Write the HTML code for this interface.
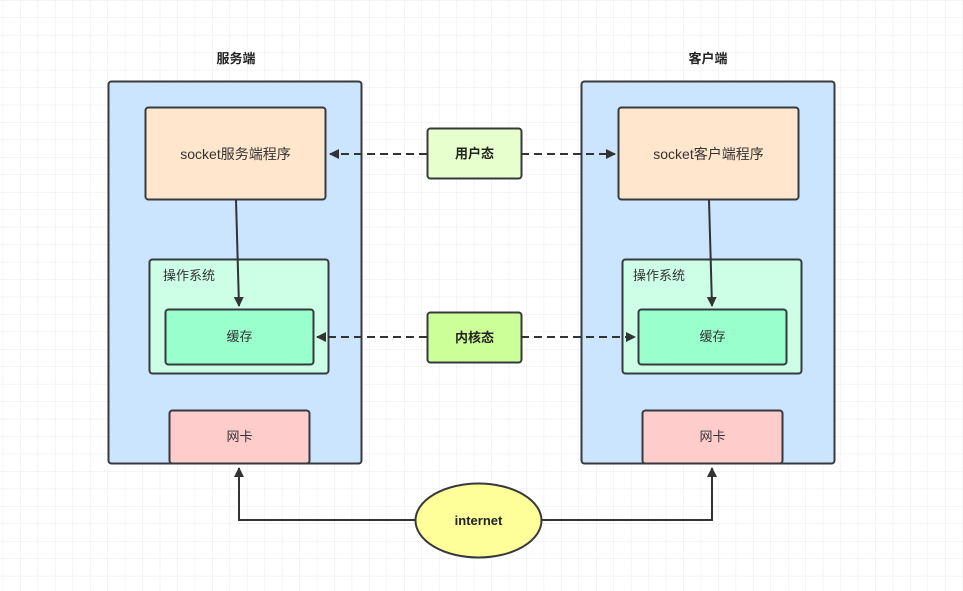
<!DOCTYPE html>
<html><head><meta charset="utf-8"><style>
html,body{margin:0;padding:0;background:#fff;}
svg{display:block;}
text{font-family:"Liberation Sans","Noto Sans CJK SC",sans-serif;}
</style></head><body>
<svg width="963" height="591" viewBox="0 0 963 591" xmlns="http://www.w3.org/2000/svg">
<defs>
<pattern id="g" x="2.7" y="0" width="17.45" height="17.45" patternUnits="userSpaceOnUse">
<path d="M0 0H17.45M0 0V17.45" stroke="#ebebeb" stroke-width="1" fill="none"/>
</pattern>
<marker id="a" markerWidth="10" markerHeight="10" refX="9" refY="5" orient="auto" markerUnits="userSpaceOnUse">
<path d="M0 0L10 5L0 10Z" fill="#333"/>
</marker>
</defs>
<rect width="963" height="591" fill="url(#g)"/>

<text x="236" y="63" font-size="13" font-weight="bold" text-anchor="middle" fill="#222">服务端</text>
<text x="708" y="63" font-size="13" font-weight="bold" text-anchor="middle" fill="#222">客户端</text>

<rect x="108.5" y="81.5" width="253" height="382" rx="3" fill="#cce5ff" stroke="#36393d" stroke-width="2"/>
<rect x="581.5" y="81.5" width="253" height="382" rx="3" fill="#cce5ff" stroke="#36393d" stroke-width="2"/>

<rect x="145.5" y="107.5" width="180" height="92" rx="3" fill="#ffe6cc" stroke="#36393d" stroke-width="2"/>
<text x="235.5" y="159" font-size="14" text-anchor="middle" fill="#333">socket服务端程序</text>
<rect x="618.5" y="107.5" width="180" height="92" rx="3" fill="#ffe6cc" stroke="#36393d" stroke-width="2"/>
<text x="708.5" y="159" font-size="14" text-anchor="middle" fill="#333">socket客户端程序</text>

<rect x="149.5" y="259.5" width="179" height="114" rx="3" fill="#ccffe6" stroke="#36393d" stroke-width="2"/>
<text x="163" y="280" font-size="13" fill="#333">操作系统</text>
<rect x="622.5" y="259.5" width="179" height="114" rx="3" fill="#ccffe6" stroke="#36393d" stroke-width="2"/>
<text x="633" y="280" font-size="13" fill="#333">操作系统</text>

<rect x="165.5" y="309.5" width="148" height="55" rx="3" fill="#99ffcc" stroke="#36393d" stroke-width="2"/>
<text x="239.5" y="341" font-size="13" text-anchor="middle" fill="#333">缓存</text>
<rect x="638.5" y="309.5" width="148" height="55" rx="3" fill="#99ffcc" stroke="#36393d" stroke-width="2"/>
<text x="712.5" y="341" font-size="13" text-anchor="middle" fill="#333">缓存</text>

<rect x="169.5" y="410.5" width="140" height="53" rx="3" fill="#ffcccc" stroke="#36393d" stroke-width="2"/>
<text x="239.5" y="441" font-size="13" text-anchor="middle" fill="#333">网卡</text>
<rect x="642.5" y="410.5" width="140" height="53" rx="3" fill="#ffcccc" stroke="#36393d" stroke-width="2"/>
<text x="712.5" y="441" font-size="13" text-anchor="middle" fill="#333">网卡</text>

<rect x="427.5" y="128.5" width="94" height="50" rx="3" fill="#e6ffcc" stroke="#36393d" stroke-width="2"/>
<text x="474.5" y="158" font-size="13" font-weight="bold" text-anchor="middle" fill="#222">用户态</text>
<rect x="427.5" y="312.5" width="94" height="50" rx="3" fill="#cdff99" stroke="#36393d" stroke-width="2"/>
<text x="474.5" y="342" font-size="13" font-weight="bold" text-anchor="middle" fill="#222">内核态</text>

<g stroke="#333" stroke-width="2" fill="none">
<path d="M427 154H330" stroke-dasharray="8 5" marker-end="url(#a)"/>
<path d="M521 154H615" stroke-dasharray="8 5" marker-end="url(#a)"/>
<path d="M427 337H317" stroke-dasharray="8 5" marker-end="url(#a)"/>
<path d="M521 337H635" stroke-dasharray="8 5" marker-end="url(#a)"/>
<path d="M236 200L239 306" marker-end="url(#a)"/>
<path d="M709 200L712 306" marker-end="url(#a)"/>
<path d="M416 520H239V468" marker-end="url(#a)"/>
<path d="M541 520H712V468" marker-end="url(#a)"/>
</g>

<ellipse cx="478.5" cy="520.5" rx="63" ry="37" fill="#ffff99" stroke="#36393d" stroke-width="2"/>
<text x="478.5" y="525" font-size="13" font-weight="bold" text-anchor="middle" fill="#222">internet</text>
</svg>
</body></html>
